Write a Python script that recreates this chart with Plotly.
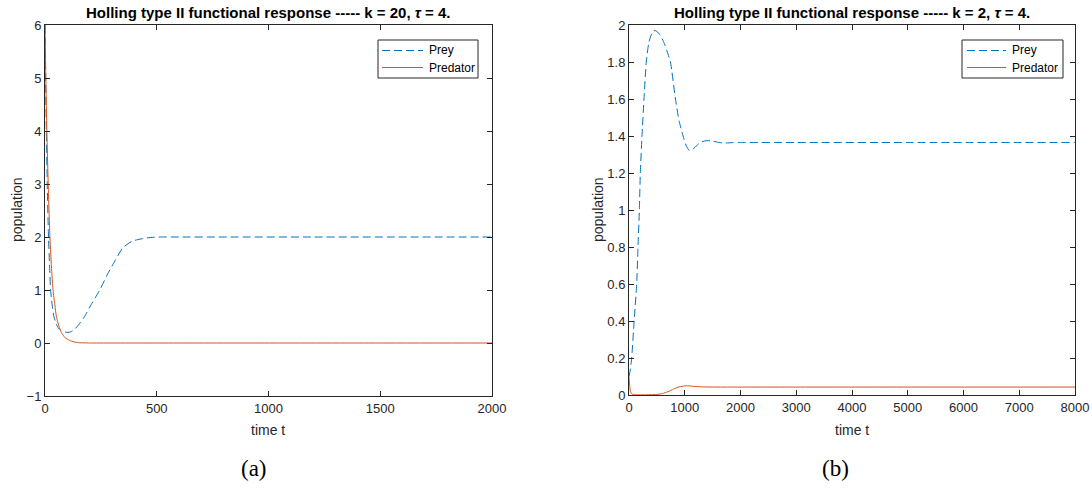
import plotly.graph_objects as go

# ---- Panel (a): k = 20, tau = 4 ----
t_prey_a = [0, 3, 6, 10, 15, 20, 25, 32, 40, 50, 60, 70, 80, 92, 103, 115, 130, 150, 177, 210, 245, 280, 313, 349, 390, 425, 470, 520, 600, 800, 1200, 1600, 2000]
prey_a = [6.0, 5.0, 4.0, 3.0, 2.1, 1.5, 1.0, 0.72, 0.5, 0.36, 0.28, 0.24, 0.22, 0.205, 0.2, 0.21, 0.25, 0.34, 0.5, 0.75, 1.0, 1.3, 1.55, 1.8, 1.92, 1.96, 1.99, 2.0, 2.0, 2.0, 2.0, 2.0, 2.0]
t_pred_a = [0, 5, 10, 15, 22, 30, 36, 44, 51, 62, 73, 90, 110, 130, 150, 175, 200, 300, 600, 1000, 1500, 2000]
pred_a = [6.0, 4.7, 3.7, 2.9, 2.0, 1.35, 1.0, 0.72, 0.5, 0.32, 0.2, 0.1, 0.05, 0.02, 0.006, 0.002, 0.0, 0.0, 0.0, 0.0, 0.0, 0.0]

# ---- Panel (b): k = 2, tau = 4 ----
t_prey_b = [0, 20, 48, 92, 138, 161, 186, 203, 233, 269, 310, 353, 390, 443, 500, 560, 620, 680, 743, 833, 900, 970, 1030, 1088, 1150, 1220, 1300, 1400, 1500, 1600, 1700, 1850, 2000, 3000, 5000, 8000]
prey_b = [0.1, 0.13, 0.2, 0.4, 0.6, 0.8, 1.0, 1.2, 1.4, 1.6, 1.8, 1.9, 1.94, 1.97, 1.965, 1.945, 1.91, 1.86, 1.8, 1.6, 1.48, 1.4, 1.345, 1.32, 1.33, 1.35, 1.368, 1.375, 1.372, 1.366, 1.362, 1.364, 1.365, 1.365, 1.365, 1.365]
t_pred_b = [0, 10, 25, 50, 100, 200, 300, 400, 500, 600, 700, 800, 900, 1000, 1050, 1150, 1300, 1500, 1800, 3000, 5000, 8000]
pred_b = [0.1, 0.06, 0.02, 0.006, 0.002, 0.001, 0.001, 0.002, 0.003, 0.008, 0.018, 0.032, 0.044, 0.049, 0.05, 0.047, 0.044, 0.043, 0.043, 0.043, 0.043, 0.043]

xticks_a = [0, 500, 1000, 1500, 2000]
yticks_a = [-1, 0, 1, 2, 3, 4, 5, 6]
xticks_b = [0, 1000, 2000, 3000, 4000, 5000, 6000, 7000, 8000]
yticks_b = [0, 0.2, 0.4, 0.6, 0.8, 1.0, 1.2, 1.4, 1.6, 1.8, 2.0]
yticklabels_b = ["0", "0.2", "0.4", "0.6", "0.8", "1", "1.2", "1.4", "1.6", "1.8", "2"]
series_names = ["Prey", "Predator"]

BLUE = "#0072BD"
ORANGE = "#D95319"
AX = "#262626"
DASH = "8px,4px"
W, H = 1092, 495
SANS = "Liberation Sans, Arial, Helvetica"


def px_x(p):
    return p / W


def px_y(p):
    return 1 - p / H


fig = go.Figure()
fig.add_trace(go.Scatter(x=t_prey_a, y=prey_a, mode="lines", name=series_names[0],
                         line=dict(color=BLUE, width=1, dash=DASH, shape="spline", smoothing=0.6),
                         xaxis="x", yaxis="y", showlegend=False))
fig.add_trace(go.Scatter(x=t_pred_a, y=pred_a, mode="lines", name=series_names[1],
                         line=dict(color=ORANGE, width=1, shape="spline", smoothing=0.6),
                         xaxis="x", yaxis="y", showlegend=False))
fig.add_trace(go.Scatter(x=t_prey_b, y=prey_b, mode="lines", name=series_names[0],
                         line=dict(color=BLUE, width=1, dash=DASH, shape="spline", smoothing=0.6),
                         xaxis="x2", yaxis="y2", showlegend=False))
fig.add_trace(go.Scatter(x=t_pred_b, y=pred_b, mode="lines", name=series_names[1],
                         line=dict(color=ORANGE, width=1, shape="spline", smoothing=0.6),
                         xaxis="x2", yaxis="y2", showlegend=False))

axis_common = dict(showline=True, linecolor=AX, linewidth=1, mirror="allticks",
                   ticks="inside", ticklen=5, tickcolor=AX, tickwidth=1,
                   showgrid=False, zeroline=False, automargin=False,
                   tickfont=dict(family=SANS, size=13, color=AX))

fig.update_layout(
    width=W, height=H,
    margin=dict(l=0, r=0, t=0, b=0, pad=0),
    paper_bgcolor="white", plot_bgcolor="white",
    showlegend=False,
    xaxis=dict(domain=[px_x(45), px_x(492)], range=[0, 2000], tickvals=xticks_a, anchor="y", **axis_common),
    yaxis=dict(domain=[px_y(396), px_y(25)], range=[-1, 6], tickvals=yticks_a, anchor="x", **axis_common),
    xaxis2=dict(domain=[px_x(629), px_x(1075)], range=[0, 8000], tickvals=xticks_b, anchor="y2", **axis_common),
    yaxis2=dict(domain=[px_y(395), px_y(25)], range=[0, 2], tickvals=yticks_b, ticktext=yticklabels_b,
                anchor="x2", **axis_common),
)

shapes = []
annotations = []

# manual MATLAB-style legends
for (bx0, bx1, by0, by1, lx0, lx1, tx) in [(378, 478, 40, 78, 382, 423, 427),
                                           (962, 1063, 40, 78, 967, 1006, 1010)]:
    shapes.append(dict(type="rect", xref="paper", yref="paper",
                       x0=px_x(bx0), x1=px_x(bx1), y0=px_y(by1), y1=px_y(by0),
                       line=dict(color=AX, width=1), fillcolor="white", layer="above"))
    for name, color, dash, yy in [(series_names[0], BLUE, DASH, 50.5), (series_names[1], ORANGE, "solid", 67.5)]:
        shapes.append(dict(type="line", xref="paper", yref="paper",
                           x0=px_x(lx0), x1=px_x(lx1), y0=px_y(yy), y1=px_y(yy),
                           line=dict(color=color, width=1, dash=dash), layer="above"))
        annotations.append(dict(text=name, x=px_x(tx), y=px_y(yy), xref="paper", yref="paper",
                                showarrow=False, xanchor="left", yanchor="middle",
                                font=dict(family=SANS, size=12, color="black")))

title_font = dict(family=SANS, size=15, color="black")
label_font = dict(family=SANS, size=14, color=AX)
serif_font = dict(family="Liberation Serif, Times New Roman, serif", size=23, color="black")
annotations += [
    dict(text="<b>Holling type II functional response ----- k = 20, <i>τ</i> = 4.</b>",
         x=px_x(268), y=px_y(12), xref="paper", yref="paper", showarrow=False,
         font=title_font, xanchor="center", yanchor="middle"),
    dict(text="<b>Holling type II functional response ----- k = 2, <i>τ</i> = 4.</b>",
         x=px_x(852), y=px_y(12), xref="paper", yref="paper", showarrow=False,
         font=title_font, xanchor="center", yanchor="middle"),
    dict(text="time t", x=px_x(268), y=px_y(430), xref="paper", yref="paper", showarrow=False,
         font=label_font, xanchor="center", yanchor="middle"),
    dict(text="time t", x=px_x(852), y=px_y(430), xref="paper", yref="paper", showarrow=False,
         font=label_font, xanchor="center", yanchor="middle"),
    dict(text="population", x=px_x(17), y=px_y(210), xref="paper", yref="paper", showarrow=False,
         textangle=-90, font=label_font, xanchor="center", yanchor="middle"),
    dict(text="population", x=px_x(598), y=px_y(210), xref="paper", yref="paper", showarrow=False,
         textangle=-90, font=label_font, xanchor="center", yanchor="middle"),
    dict(text="(a)", x=px_x(254), y=px_y(468), xref="paper", yref="paper", showarrow=False,
         font=serif_font, xanchor="center", yanchor="middle"),
    dict(text="(b)", x=px_x(836), y=px_y(468), xref="paper", yref="paper", showarrow=False,
         font=serif_font, xanchor="center", yanchor="middle"),
]
fig.update_layout(shapes=shapes, annotations=annotations)

fig.write_html("out.html")
